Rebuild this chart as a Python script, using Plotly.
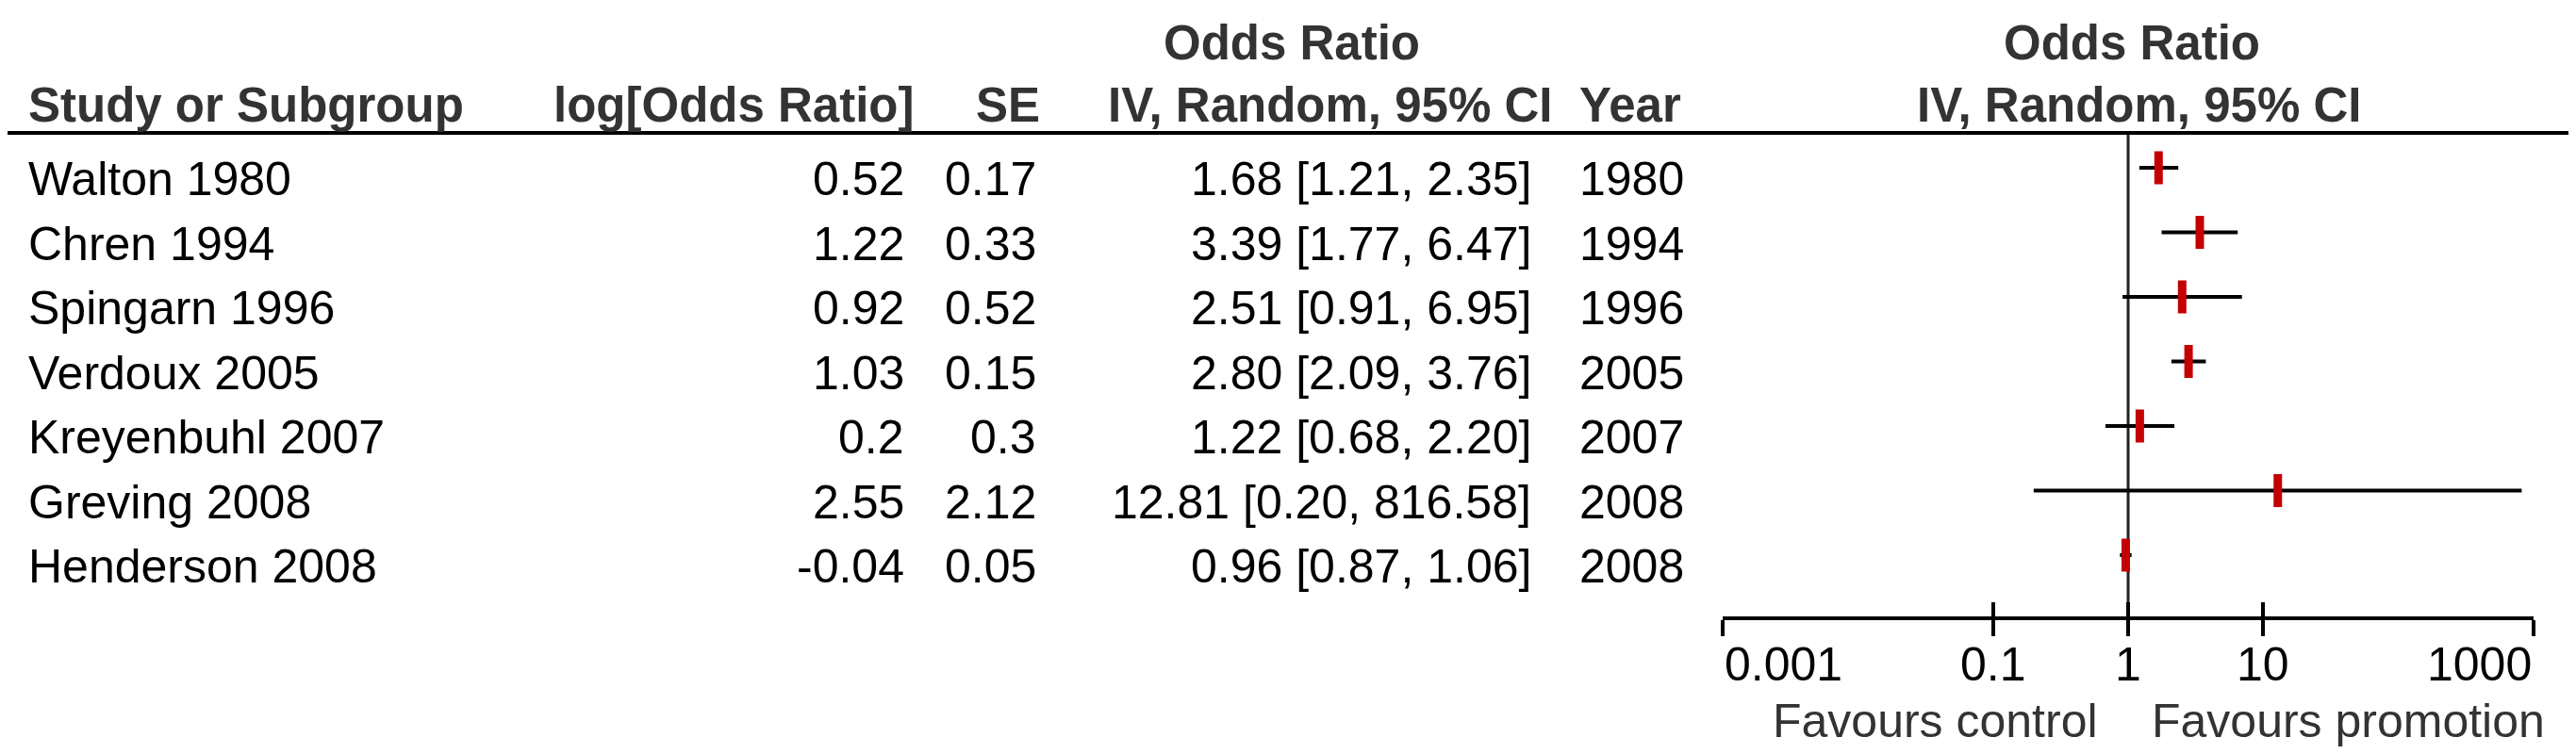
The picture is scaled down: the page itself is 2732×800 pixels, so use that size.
import numpy as np
import plotly.graph_objects as go

# ---- data ----
STUDIES = ["Walton 1980", "Chren 1994", "Spingarn 1996", "Verdoux 2005",
           "Kreyenbuhl 2007", "Greving 2008", "Henderson 2008"]
LOG_OR = [0.52, 1.22, 0.92, 1.03, 0.2, 2.55, -0.04]
SE = [0.17, 0.33, 0.52, 0.15, 0.3, 2.12, 0.05]
ODDS = [1.68, 3.39, 2.51, 2.80, 1.22, 12.81, 0.96]
CI_LOW = [1.21, 1.77, 0.91, 2.09, 0.68, 0.20, 0.87]
CI_HIGH = [2.35, 6.47, 6.95, 3.76, 2.20, 816.58, 1.06]
YEARS = [1980, 1994, 1996, 2005, 2007, 2008, 2008]
TICK_VALS = [0.001, 0.1, 1, 10, 1000]
TICK_LABELS = ["0.001", "0.1", "1", "10", "1000"]
NULL_VALUE = 1
LEFT_LABEL = "Favours control"
RIGHT_LABEL = "Favours promotion"

W, H = 2732, 800
FONT = "Liberation Sans, Arial, sans-serif"
RED = "#c40000"

def px(x):
    return x / W

def py(y):
    return 1 - y / H

ROW0, ROWSTEP = 170, 68.5
rows = list(range(len(STUDIES)))
yrange = [(H - ROW0) / ROWSTEP, -ROW0 / ROWSTEP]

def row_of_pixel(p):
    return (p - ROW0) / ROWSTEP

AXIS_Y = 648
HEAD_LINE_Y = 133
X_LEFT, X_RIGHT = 1819, 2679

fig = go.Figure()

# line of no effect
fig.add_trace(go.Scatter(x=[NULL_VALUE, NULL_VALUE],
                         y=[row_of_pixel(HEAD_LINE_Y), row_of_pixel(AXIS_Y)],
                         mode="lines", line=dict(color="#222222", width=3),
                         hoverinfo="skip", showlegend=False))
# CI lines
cx, cy = [], []
for lo, hi, r in zip(CI_LOW, CI_HIGH, rows):
    cx += [lo, hi, None]
    cy += [r, r, None]
fig.add_trace(go.Scatter(x=cx, y=cy, mode="lines",
                         line=dict(color="black", width=4),
                         hoverinfo="skip", showlegend=False))
# point estimates
fig.add_trace(go.Scatter(x=ODDS, y=rows, mode="markers",
                         marker=dict(symbol="line-ns", size=25, color=RED,
                                     line=dict(color=RED, width=9)),
                         showlegend=False))
# dummy for second axis (inward ticks)
fig.add_trace(go.Scatter(x=[1], y=[0], xaxis="x2", mode="markers",
                         marker=dict(opacity=0), hoverinfo="skip", showlegend=False))

axis_common = dict(type="log", range=[-3, 3], domain=[px(X_LEFT), px(X_RIGHT)],
                   anchor="free", position=py(AXIS_Y), tickvals=TICK_VALS,
                   showticklabels=False, showgrid=False, zeroline=False,
                   ticklen=17, tickwidth=4, tickcolor="black")

fig.update_layout(
    width=W, height=H, margin=dict(l=0, r=0, t=0, b=0),
    paper_bgcolor="white", plot_bgcolor="rgba(0,0,0,0)",
    showlegend=False,
    xaxis=dict(**axis_common, ticks="outside", showline=True,
               linewidth=4, linecolor="black"),
    xaxis2=dict(**axis_common, ticks="inside", overlaying="x", showline=False),
    yaxis=dict(range=yrange, domain=[0, 1], visible=False, fixedrange=True),
)

ann = []
DATA_FONT = dict(family=FONT, size=50, color="black")
HEAD_FONT = dict(family=FONT, size=51, color="#333333")
TEXT_SHIFT = -12

def head(text, x, y, anchor):
    ann.append(dict(text="<b>%s</b>" % text, x=px(x), y=py(y), xref="paper", yref="paper",
                    xanchor=anchor, yanchor="middle", showarrow=False, font=HEAD_FONT))

head("Study or Subgroup", 20, 103, "left")
head("log[Odds Ratio]", 963, 103, "right")
head("SE", 1097, 103, "right")
head("Odds Ratio", 1362, 38, "center")
head("IV, Random, 95% CI", 1640, 103, "right")
head("Year", 1665, 103, "left")
head("Odds Ratio", 2253, 38, "center")
head("IV, Random, 95% CI", 2260, 103, "center")

for r, name, lg, se, o, lo, hi, yr in zip(rows, STUDIES, LOG_OR, SE, ODDS, CI_LOW, CI_HIGH, YEARS):
    cells = [(name, 20, "left"), (str(lg), 953, "right"), (str(se), 1093, "right"),
             ("%.2f [%.2f, %.2f]" % (o, lo, hi), 1618, "right"), (str(yr), 1665, "left")]
    for text, x, anchor in cells:
        ann.append(dict(text=text, x=px(x), y=r, xref="paper", yref="y",
                        xanchor=anchor, yanchor="middle", yshift=TEXT_SHIFT,
                        showarrow=False, font=DATA_FONT))

# tick labels
for i, (v, lab) in enumerate(zip(TICK_VALS, TICK_LABELS)):
    anchor = "left" if i == 0 else ("right" if i == len(TICK_VALS) - 1 else "center")
    ann.append(dict(text=lab, x=float(np.log10(v)), y=py(697), xref="x", yref="paper",
                    xanchor=anchor, yanchor="middle", showarrow=False, font=DATA_FONT))

ann.append(dict(text=LEFT_LABEL, x=px(2219), y=py(757), xref="paper", yref="paper",
                xanchor="right", yanchor="middle", showarrow=False,
                font=dict(family=FONT, size=50, color="#333333")))
ann.append(dict(text=RIGHT_LABEL, x=px(2272), y=py(757), xref="paper", yref="paper",
                xanchor="left", yanchor="middle", showarrow=False,
                font=dict(family=FONT, size=50, color="#333333")))

fig.update_layout(annotations=ann)

shapes = [
    dict(type="line", xref="paper", yref="paper", x0=0, x1=1,
         y0=py(HEAD_LINE_Y), y1=py(HEAD_LINE_Y), line=dict(color="black", width=4)),
]
fig.update_layout(shapes=shapes)

fig.write_html("out.html")
